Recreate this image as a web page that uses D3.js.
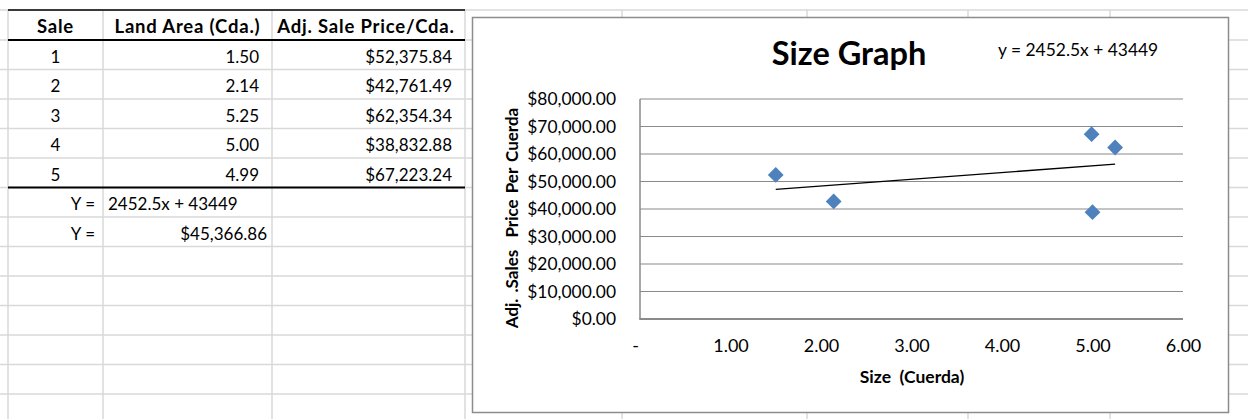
<!DOCTYPE html>
<html><head><meta charset="utf-8">
<script src="https://cdn.jsdelivr.net/npm/d3@7"></script>
<style>
html,body{margin:0;padding:0;background:#fff;}
svg text{font-family:Lato,"Noto Sans",sans-serif;white-space:pre;}
</style></head>
<body>
<svg id="c" width="1248" height="419"></svg>
<script>
// ---- data ----
const sales = ["1","2","3","4","5"];
const landArea = [1.50, 2.14, 5.25, 5.00, 4.99];
const salePrice = [52375.84, 42761.49, 62354.34, 38832.88, 67223.24];
const headers = ["Sale","Land Area (Cda.)","Adj. Sale Price/Cda."];
const slope = 2452.5, intercept = 43449;
const eqText = "2452.5x + 43449";
const predictedY = 45366.86;
const yTicks = [0,10000,20000,30000,40000,50000,60000,70000,80000];
const xTicks = [0,1,2,3,4,5,6];
const xTickLabels = ["-","1.00","2.00","3.00","4.00","5.00","6.00"];
const chartTitle = "Size Graph";
const xTitle = "Size  (Cuerda)";
const yTitle = "Adj. .Sales  Price Per Cuerda";

const svg = d3.select("#c");
svg.append("rect").attr("width",1248).attr("height",419).attr("fill","#fff");

// ---- spreadsheet grid ----
const grid = svg.append("g");
const rowY = [10,40].concat(d3.range(1,14).map(i=>40+i*29.5));
const colX = [8,103,272,465];
const upperCols = [622,807,968,1110];
const gc = "#d9d9d9";
rowY.forEach(y=>{
  grid.append("line").attr("x1",0).attr("x2",1248).attr("y1",y).attr("y2",y)
    .attr("stroke",gc).attr("stroke-width",1.5);
});
colX.concat(upperCols).forEach(x=>{
  grid.append("line").attr("x1",x).attr("x2",x).attr("y1",10).attr("y2",419)
    .attr("stroke",gc).attr("stroke-width",1.5);
});
[[10,1.5],[40,2],[rowY[6],2]].forEach(([y,w])=>{
  grid.append("line").attr("x1",8).attr("x2",465).attr("y1",y).attr("y2",y)
    .attr("stroke","#000").attr("stroke-width",w);
});

// ---- table text ----
const fs = "17px";
const colCenters = [55.5,187.5,366];
const tbl = svg.append("g").attr("font-size",fs).attr("fill","#000");
headers.forEach((h,i)=>{
  tbl.append("text").attr("x",colCenters[i]).attr("y",rowY[1]-7)
    .attr("text-anchor","middle").attr("font-weight","bold")
    .attr("font-size","18.5px").attr("letter-spacing","0.8px").text(h);
});
const fmtMoney = v => "$" + d3.format(",.2f")(v);
sales.forEach((s,i)=>{
  const yb = rowY[i+2]-7;
  tbl.append("text").attr("x",colCenters[0]).attr("y",yb).attr("text-anchor","middle").text(s);
  tbl.append("text").attr("x",259).attr("y",yb).attr("text-anchor","end").text(d3.format(".2f")(landArea[i]));
  tbl.append("text").attr("x",452).attr("y",yb).attr("text-anchor","end").text(fmtMoney(salePrice[i]));
});
tbl.append("text").attr("x",95).attr("y",rowY[7]-7).attr("text-anchor","end").text("Y =");
tbl.append("text").attr("x",108).attr("y",rowY[7]-7).text(eqText);
tbl.append("text").attr("x",95).attr("y",rowY[8]-7).attr("text-anchor","end").text("Y =");
tbl.append("text").attr("x",267).attr("y",rowY[8]-7).attr("text-anchor","end").text(fmtMoney(predictedY));

// ---- chart ----
const chart = svg.append("g");
chart.append("rect").attr("x",472.5).attr("y",17.5).attr("width",756).attr("height",395)
  .attr("fill","#fff").attr("stroke","#8c8c8c").attr("stroke-width",1.5);

const x = d3.scaleLinear().domain([0,6]).range([640,1183]);
const y = d3.scaleLinear().domain([0,80000]).range([319,99]);

chart.append("g").selectAll("line").data(yTicks.slice(1)).join("line")
  .attr("x1",x(0)).attr("x2",x(6)).attr("y1",d=>y(d)).attr("y2",d=>y(d))
  .attr("stroke","#8a8a8a").attr("stroke-width",1.2);
chart.append("line").attr("x1",x(0)).attr("x2",x(0)).attr("y1",y(80000)).attr("y2",y(0))
  .attr("stroke","#8a8a8a").attr("stroke-width",1.5);
chart.append("line").attr("x1",x(0)-0.75).attr("x2",x(6)).attr("y1",y(0)).attr("y2",y(0))
  .attr("stroke","#8a8a8a").attr("stroke-width",1.8);

const yAxis = d3.axisLeft(y).tickValues(yTicks).tickSize(0).tickPadding(24)
  .tickFormat(d=>fmtMoney(d));
const gy = chart.append("g").attr("transform",`translate(${x(0)},0)`).call(yAxis);
gy.select(".domain").remove();
gy.selectAll("text").attr("font-size","17.4px").attr("font-family","Lato").attr("fill","#000");

const xAxis = d3.axisBottom(x).tickValues(xTicks).tickSize(0).tickPadding(20)
  .tickFormat((d,i)=>xTickLabels[i]);
const gx = chart.append("g").attr("transform",`translate(0,${y(0)})`).call(xAxis);
gx.select(".domain").remove();
gx.selectAll("text").attr("font-size","18px").attr("font-family","Lato").attr("fill","#000")
  .attr("dx",(d,i)=>i===0?-5:0);

// trendline
const xs = d3.extent(landArea);
chart.append("path")
  .datum(xs.map(v=>[v, slope*v+intercept]))
  .attr("d", d3.line().x(d=>x(d[0])).y(d=>y(d[1])))
  .attr("stroke","#000").attr("stroke-width",1.3).attr("fill","none");

// points
const sym = d3.symbol().type(d3.symbolSquare).size(125);
chart.append("g").selectAll("path").data(landArea.map((v,i)=>[v,salePrice[i]])).join("path")
  .attr("transform",d=>`translate(${x(d[0])},${y(d[1])}) rotate(45)`)
  .attr("d",sym).attr("fill","#4f81bd");

// titles
chart.append("text").attr("x",849).attr("y",65).attr("text-anchor","middle")
  .attr("font-size","32.5px").attr("font-weight","bold").text(chartTitle);
chart.append("text").attr("x",998).attr("y",56).attr("font-size","17.4px").text("y = " + eqText);
chart.append("text").attr("x",912).attr("y",383).attr("text-anchor","middle")
  .attr("font-size","17.5px").attr("font-weight","bold").text(xTitle);
chart.append("text").attr("transform","translate(518,218) rotate(-90)").attr("text-anchor","middle")
  .attr("font-size","17px").attr("font-weight","bold").attr("word-spacing","2px").text(yTitle);
</script>
</body></html>
